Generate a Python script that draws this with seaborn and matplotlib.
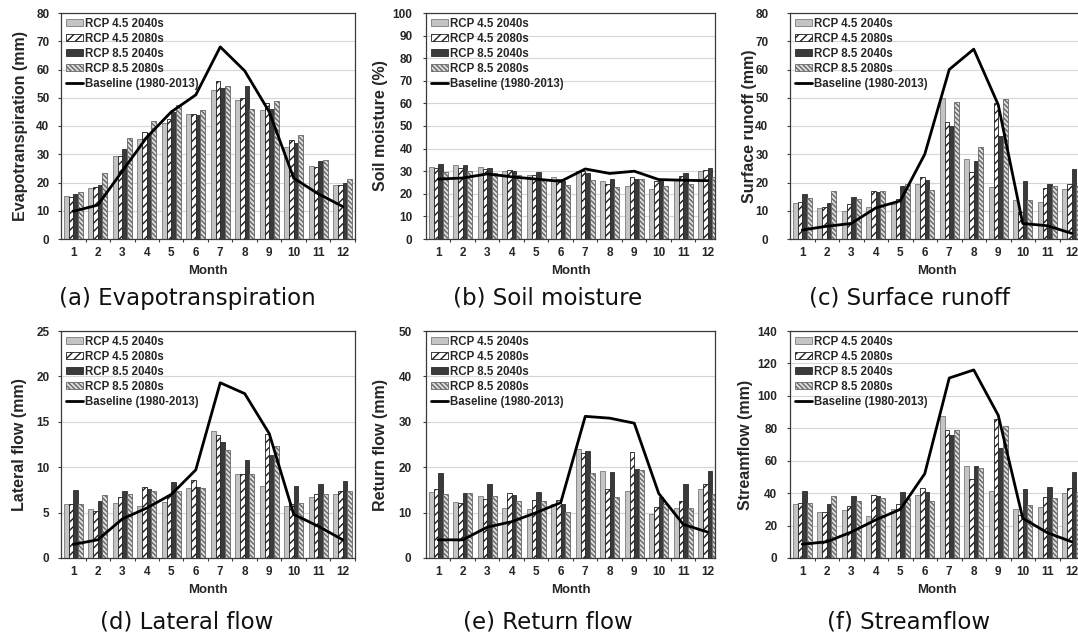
import numpy as np
import pandas as pd
import matplotlib
matplotlib.use("Agg")
import matplotlib.pyplot as plt
import seaborn as sns
from matplotlib.ticker import MultipleLocator, FixedLocator

# ---------------- data ----------------
months = list(range(1, 13))
scenarios = ["RCP 4.5 2040s", "RCP 4.5 2080s", "RCP 8.5 2040s", "RCP 8.5 2080s"]
baseline_label = "Baseline (1980-2013)"

# (a) Evapotranspiration (mm)
et_45_40 = [15.3, 18.2, 29.3, 35.5, 41.0, 44.3, 52.8, 49.3, 45.5, 32.5, 26.0, 19.2]
et_45_80 = [14.8, 18.5, 29.5, 38.0, 42.5, 44.3, 55.8, 50.0, 48.0, 35.2, 25.5, 19.0]
et_85_40 = [15.8, 19.0, 32.0, 37.5, 45.0, 44.0, 53.5, 54.0, 46.0, 34.0, 27.5, 19.8]
et_85_80 = [16.5, 23.5, 35.8, 41.8, 47.5, 45.8, 54.0, 46.0, 48.8, 36.8, 27.8, 21.3]
et_base = [9.8, 12.0, 24.0, 36.0, 45.0, 51.0, 68.0, 59.5, 45.0, 21.5, 16.0, 11.5]

# (b) Soil moisture (%)
sm_45_40 = [32.0, 32.7, 31.7, 30.0, 28.5, 27.3, 30.2, 25.5, 23.5, 22.0, 26.5, 30.0]
sm_45_80 = [31.5, 31.5, 31.0, 30.5, 28.5, 26.5, 30.0, 24.5, 27.5, 25.5, 28.0, 30.5]
sm_85_40 = [33.0, 32.7, 31.5, 30.2, 29.5, 25.5, 29.2, 26.5, 26.5, 26.0, 29.2, 31.3]
sm_85_80 = [29.8, 30.2, 29.2, 28.5, 26.0, 24.0, 26.0, 22.8, 26.5, 23.3, 24.2, 27.5]
sm_base = [26.5, 27.0, 28.8, 27.5, 26.5, 25.5, 31.0, 29.0, 30.0, 26.3, 26.0, 25.8]

# (c) Surface runoff (mm)
sr_45_40 = [12.8, 11.0, 9.8, 11.5, 12.5, 19.5, 49.8, 28.2, 18.3, 13.8, 13.2, 17.6]
sr_45_80 = [13.0, 11.5, 12.5, 17.0, 14.0, 22.0, 41.5, 23.8, 48.3, 9.5, 18.2, 19.5]
sr_85_40 = [15.8, 12.8, 14.8, 16.8, 18.8, 21.0, 40.0, 27.7, 36.5, 20.5, 19.5, 24.8]
sr_85_80 = [14.5, 17.0, 14.3, 17.0, 19.5, 17.5, 48.5, 32.7, 49.4, 13.8, 18.8, 18.8]
sr_base = [3.2, 4.5, 5.5, 11.0, 13.5, 30.0, 60.0, 67.2, 47.5, 5.5, 4.7, 2.0]

# (d) Lateral flow (mm)
lf_45_40 = [5.9, 5.4, 6.1, 5.7, 6.2, 7.7, 14.0, 9.3, 7.9, 5.7, 6.7, 7.1]
lf_45_80 = [5.9, 5.2, 6.7, 7.8, 6.9, 8.6, 13.5, 9.3, 13.7, 5.9, 7.1, 7.4]
lf_85_40 = [7.5, 6.3, 7.4, 7.6, 8.4, 7.8, 12.8, 10.8, 11.3, 7.9, 8.1, 8.5]
lf_85_80 = [6.0, 6.9, 7.1, 7.4, 7.4, 7.7, 11.9, 9.2, 12.3, 6.1, 7.1, 7.4]
lf_base = [1.5, 2.0, 4.3, 5.5, 7.0, 9.7, 19.3, 18.1, 13.7, 4.8, 3.5, 2.0]

# (e) Return flow (mm)
rf_45_40 = [14.5, 12.4, 13.6, 11.0, 10.7, 12.0, 24.0, 19.2, 14.8, 9.8, 11.1, 15.1]
rf_45_80 = [15.3, 12.2, 13.0, 14.4, 12.7, 12.7, 23.2, 15.3, 23.4, 11.3, 12.6, 16.2]
rf_85_40 = [18.7, 14.4, 16.3, 13.8, 14.5, 12.0, 23.5, 18.9, 19.5, 13.4, 16.3, 19.2]
rf_85_80 = [14.0, 14.4, 13.6, 12.5, 12.5, 10.2, 18.7, 13.4, 19.4, 12.0, 11.1, 14.2]
rf_base = [4.0, 4.0, 6.8, 8.0, 10.0, 12.2, 31.2, 30.8, 29.7, 14.2, 7.4, 5.7]

# (f) Streamflow (mm)
sf_45_40 = [33.0, 28.5, 29.5, 26.2, 30.0, 39.0, 87.5, 56.9, 41.3, 30.0, 31.7, 39.9]
sf_45_80 = [34.0, 28.5, 32.0, 39.0, 33.5, 43.0, 79.0, 48.5, 85.7, 26.5, 37.8, 43.0]
sf_85_40 = [41.5, 33.3, 38.5, 38.0, 41.0, 40.5, 76.0, 56.9, 67.7, 42.4, 44.0, 53.0]
sf_85_80 = [34.2, 38.0, 35.0, 37.0, 37.0, 35.0, 79.0, 55.3, 81.4, 32.5, 37.2, 41.0]
sf_base = [8.5, 10.0, 16.0, 23.5, 30.0, 52.0, 111.0, 116.0, 88.0, 24.5, 15.6, 10.0]

ylabels = ["Evapotranspiration (mm)", "Soil moisture (%)", "Surface runoff (mm)",
           "Lateral flow (mm)", "Return flow (mm)", "Streamflow (mm)"]
captions = ["(a) Evapotranspiration", "(b) Soil moisture", "(c) Surface runoff",
            "(d) Lateral flow", "(e) Return flow", "(f) Streamflow"]
ymaxes = [80, 100, 80, 25, 50, 140]
ysteps = [10, 10, 10, 5, 10, 20]

series = [
    ([et_45_40, et_45_80, et_85_40, et_85_80], et_base),
    ([sm_45_40, sm_45_80, sm_85_40, sm_85_80], sm_base),
    ([sr_45_40, sr_45_80, sr_85_40, sr_85_80], sr_base),
    ([lf_45_40, lf_45_80, lf_85_40, lf_85_80], lf_base),
    ([rf_45_40, rf_45_80, rf_85_40, rf_85_80], rf_base),
    ([sf_45_40, sf_45_80, sf_85_40, sf_85_80], sf_base),
]

# ---------------- style ----------------
sns.set_style("white")
plt.rcParams["font.family"] = ["Liberation Sans", "DejaVu Sans"]
plt.rcParams["font.weight"] = "bold"
plt.rcParams["hatch.linewidth"] = 1.0

bar_styles = [
    dict(facecolor="#c4c4c4", edgecolor="#7a7a7a", hatch=None),
    dict(facecolor="#ffffff", edgecolor="#1e1e1e", hatch="////"),
    dict(facecolor="#3a3a3a", edgecolor="#2a2a2a", hatch=None),
    dict(facecolor="#dcdcdc", edgecolor="#666666", hatch="\\\\\\\\\\\\\\"),
]

W, H = 1078, 636
fig = plt.figure(figsize=(W / 100, H / 100), dpi=100)

# panel geometry in pixels: left, top, width, height, x right limit, ytick pad(pt), ylabel right edge(px)
geom = [
    (61, 13, 294, 226, 11.5, 5.8, 28),
    (426, 13, 289, 226, 11.296, 7.2, 388),
    (790, 13, 294, 226, 11.5, 13.0, 757),
    (61, 331, 294, 227, 11.5, 5.8, 27),
    (426, 331, 289, 227, 11.296, 7.9, 388),
    (790, 331, 294, 227, 11.5, 6.5, 753),
]
cap_x = [187, 548, 909, 187, 548, 909]
cap_y = [298, 298, 298, 622, 622, 622]

for i in range(6):
    left, top, w, h, xr, ypad, ylab_r = geom[i]
    ax = fig.add_axes([left / W, 1 - (top + h) / H, w / W, h / H])
    bars, base = series[i]
    rows = []
    for s, vals in zip(scenarios, bars):
        for m, v in zip(months, vals):
            rows.append({"Month": m, "Scenario": s, "Value": v})
    df = pd.DataFrame(rows)
    sns.barplot(data=df, x="Month", y="Value", hue="Scenario", order=months,
                hue_order=scenarios, palette=[st["facecolor"] for st in bar_styles],
                saturation=1, width=0.76, errorbar=None, legend=False, ax=ax,
                linewidth=0.6, edgecolor="#333333")
    for cont, st in zip(ax.containers, bar_styles):
        for p in cont:
            p.set_facecolor(st["facecolor"])
            p.set_edgecolor(st["edgecolor"])
            p.set_linewidth(0.6)
            if st["hatch"]:
                p.set_hatch(st["hatch"])
    sns.lineplot(x=np.arange(len(months)), y=base, color="black", linewidth=2,
                 ax=ax, legend=False)
    line = ax.lines[-1]

    ax.set_xlim(-0.5, xr)
    ax.set_ylim(0, ymaxes[i])
    ax.yaxis.set_major_locator(MultipleLocator(ysteps[i]))
    ax.set_axisbelow(True)
    ax.grid(axis="y", color="#d6d6d6", linewidth=0.8)
    ax.grid(axis="x", visible=False)
    for sp in ax.spines.values():
        sp.set_color("#3a3a3a")
        sp.set_linewidth(0.9)
        sp.set_visible(True)

    ax.set_xticks(range(len(months)))
    ax.set_xticklabels([str(m) for m in months], fontsize=8.5, fontweight="bold")
    ax.xaxis.set_minor_locator(FixedLocator(np.arange(0.5, 11.6, 1.0)))
    ax.tick_params(axis="x", which="major", length=0, pad=6)
    ax.tick_params(axis="x", which="minor", length=2.5, width=0.8, color="#3a3a3a", direction="out", bottom=True)
    ax.tick_params(axis="y", which="major", length=2.5, width=0.8, color="#3a3a3a",
                   direction="out", left=True, pad=ypad, labelsize=8.5)
    for t in ax.get_yticklabels():
        t.set_fontweight("bold")

    ax.set_xlabel("Month", fontsize=9.5, fontweight="bold", labelpad=4)
    ax.set_ylabel(ylabels[i], fontsize=11.5, fontweight="bold")
    ax.yaxis.set_label_coords((ylab_r - left) / w, 0.5)

    handles = list(ax.containers) + [line]
    labels = scenarios + [baseline_label]
    ax.legend(handles, labels, loc="upper left", frameon=False,
              prop={"size": 8.3, "weight": "bold"}, handlelength=1.5, handleheight=0.6,
              handletextpad=0.15, labelspacing=0.26, borderaxespad=0.15, borderpad=0.25)

    fig.text(cap_x[i] / W, 1 - cap_y[i] / H, captions[i], ha="center", va="center",
             fontsize=16.5, fontweight="normal", family=["DejaVu Sans"], color="#111111")

fig.savefig("out.png", dpi=100)
